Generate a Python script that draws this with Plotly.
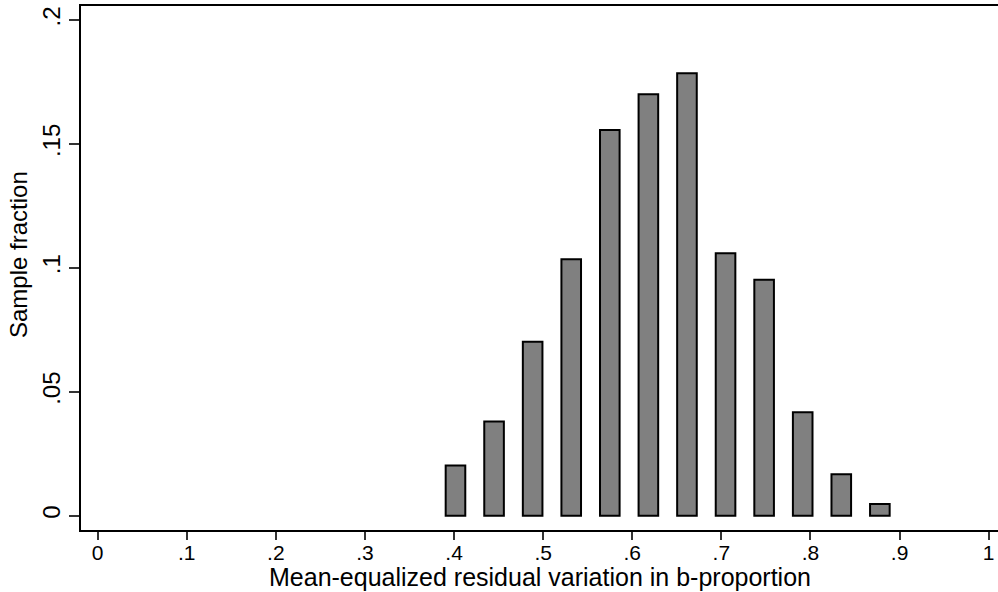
import plotly.graph_objects as go

# Data
bin_centers = [0.4016, 0.4449, 0.4882, 0.5315, 0.5748, 0.6181, 0.6614,
               0.7047, 0.7480, 0.7913, 0.8346, 0.8779]
fractions = [0.0202, 0.0380, 0.0702, 0.1035, 0.1557, 0.1701, 0.1786,
             0.1059, 0.0952, 0.0417, 0.0167, 0.0047]
x_tick_vals = [0, 0.1, 0.2, 0.3, 0.4, 0.5, 0.6, 0.7, 0.8, 0.9, 1.0]
x_tick_text = ["0", ".1", ".2", ".3", ".4", ".5", ".6", ".7", ".8", ".9", "1"]
y_tick_vals = [0, 0.05, 0.1, 0.15, 0.2]
y_tick_text = ["0", ".05", ".1", ".15", ".2"]
x_title = "Mean-equalized residual variation in b-proportion"
y_title = "Sample fraction"

FONT = "Liberation Sans, Arial, sans-serif"

fig = go.Figure(go.Bar(
    x=bin_centers, y=fractions, width=0.022,
    marker=dict(color="#808080", line=dict(color="black", width=2)),
))

fig.update_layout(
    width=998, height=592,
    margin=dict(l=81, r=0, t=6, b=62),
    paper_bgcolor="white", plot_bgcolor="white",
    showlegend=False,
    font=dict(family=FONT, size=22, color="black"),
    xaxis=dict(
        range=[-0.0187, 1.0105], tickvals=x_tick_vals, ticktext=x_tick_text,
        showgrid=False, zeroline=False, showline=True, linecolor="black",
        linewidth=1.5, mirror=True, ticks="outside", ticklen=8, tickwidth=1.5,
        tickcolor="#333", tickfont=dict(size=21), ticklabelstandoff=-5,
    ),
    yaxis=dict(
        range=[-0.0058, 0.2057], tickvals=y_tick_vals, ticktext=y_tick_text,
        showgrid=False, zeroline=False, showline=True, linecolor="black",
        linewidth=1.5, ticks="outside", ticklen=10, tickwidth=1.5,
        tickcolor="#333", tickangle=-90, tickfont=dict(size=24),
    ),
    annotations=[
        dict(text=x_title, xref="paper", yref="paper", x=0.5, y=-0.089,
             xanchor="center", yanchor="middle", showarrow=False,
             font=dict(size=25)),
        dict(text=y_title, xref="paper", yref="paper", x=-0.0675, y=0.525,
             xanchor="center", yanchor="middle", showarrow=False,
             textangle=-90, font=dict(size=24)),
    ],
)

fig.write_html("out.html")
